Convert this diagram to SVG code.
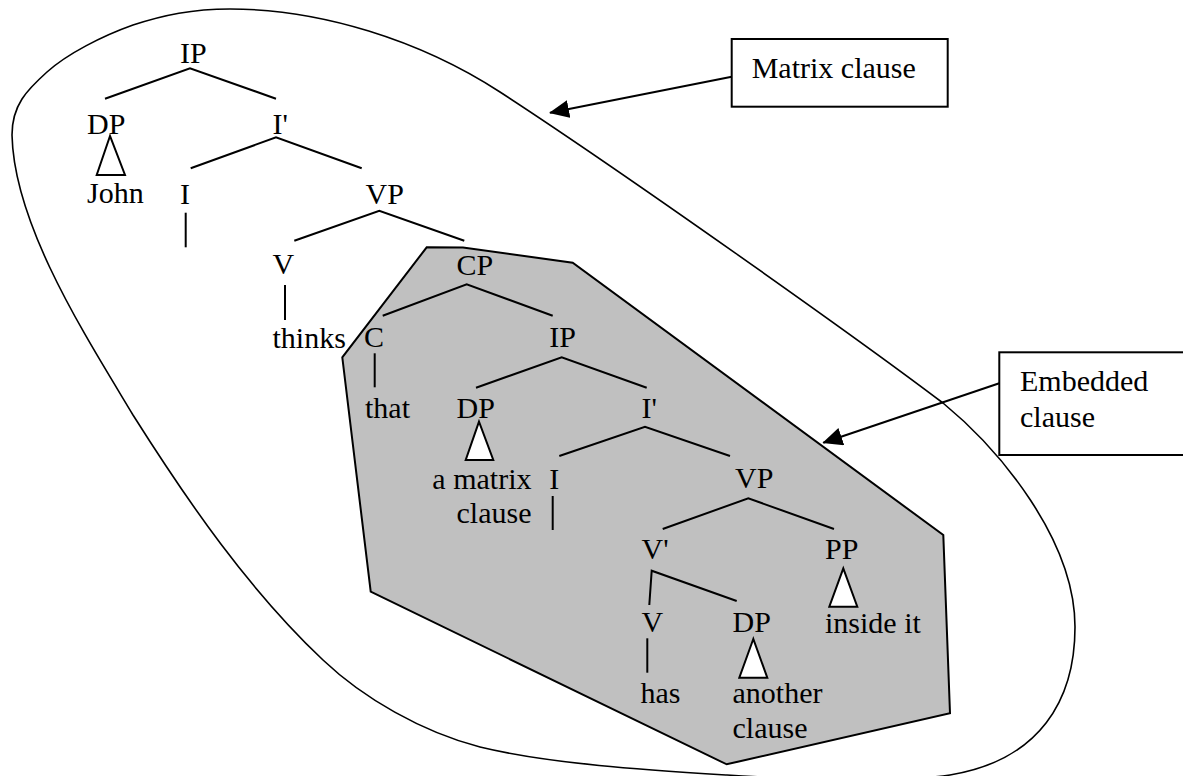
<svg xmlns="http://www.w3.org/2000/svg" width="1183" height="776" viewBox="0 0 1183 776">
  <style>
    .lbl { font-family: "Liberation Serif", "Times New Roman", serif; font-size: 30px; fill: #000; }
    .edge { stroke: #000; stroke-width: 2; fill: none; stroke-linecap: butt; }
    .tri { stroke: #000; stroke-width: 2; fill: #fff; stroke-linejoin: miter; }
    .box { stroke: #000; stroke-width: 2; fill: #fff; }
    .arrow { stroke: #000; stroke-width: 2; fill: none; }
  </style>
  <defs>
    <marker id="head" viewBox="0 0 20 18" refX="19" refY="9" markerWidth="20" markerHeight="18" markerUnits="userSpaceOnUse" orient="auto">
      <path d="M0,0 L20,9 L0,18 z" fill="#000"/>
    </marker>
  </defs>
  <rect width="1183" height="776" fill="#fff"/>

  <!-- outline of the matrix clause -->
  <path id="matrix-region" d="M230,9 C320,9 420,40 500,92 C620,170 860,340 943,403 C1000,450 1075,540 1075,627 C1075,700 1040,760 950,775 C896,783 805,780 727,775 C647,770 550,764 480,747 C422,732 363,698 323,660 C248,589 188,502 133,415 C85,335 14,225 12,135 C12,105 27,90 47,72 C67,54 102,36 133,25 C164,15 192,9 230,9 Z" fill="none" stroke="#000" stroke-width="1.6"/>

  <!-- shaded embedded clause -->
  <polygon id="embedded-region" points="426.7,247.3 463,247.5 572.7,262.7 943.3,535 950,713.3 726.7,764.3 370.7,591.7 342.3,357.3" fill="#c0c0c0" stroke="#000" stroke-width="2"/>

  <!-- tree branches and callout arrows -->
  <g id="connectors">
    <polyline class="edge" points="105,98.7 190,68.3 276,98.7"/>
    <polyline class="edge" points="190.7,168.3 276,137.3 361.7,168.3"/>
    <line class="edge" x1="185.7" y1="212.7" x2="185.7" y2="247.3"/>
    <polyline class="edge" points="294.3,240.7 379.3,210.7 464.3,240.7"/>
    <line class="edge" x1="285" y1="285" x2="285" y2="320"/>
    <polyline class="edge" points="382.7,315.7 466.7,284.3 552.7,315.7"/>
    <line class="edge" x1="374.7" y1="353.3" x2="374.7" y2="387.3"/>
    <polyline class="edge" points="476,387.7 561.7,357.3 646.7,387.7"/>
    <polyline class="edge" points="559.3,456 645,426.7 730,456"/>
    <line class="edge" x1="552.7" y1="496" x2="552.7" y2="530"/>
    <polyline class="edge" points="662.7,529 748.3,498.3 834,529"/>
    <polyline class="edge" points="649.3,605 651.7,570.7 736.7,601"/>
    <line class="edge" x1="647.3" y1="638.3" x2="647.3" y2="672.7"/>
    <polygon class="tri" points="110,136 96.7,175 125,175"/>
    <polygon class="tri" points="479,421.7 465.7,460 493.3,460"/>
    <polygon class="tri" points="843.3,568.3 829.3,606.7 857.3,606.7"/>
    <polygon class="tri" points="753.3,639 739.3,677.7 767.3,677.7"/>
    <line class="arrow" x1="731.7" y1="76.7" x2="550" y2="112.7" marker-end="url(#head)"/>
    <line class="arrow" x1="999.3" y1="383.3" x2="823.3" y2="442.7" marker-end="url(#head)"/>
  </g>

  <!-- matrix clause nodes -->
  <g id="n-ip"><text class="lbl" x="180" y="63">IP</text></g>
  <g id="n-dp"><text class="lbl" x="87" y="134">DP</text></g>
  <g id="n-john"><text class="lbl" x="87" y="203">John</text></g>
  <g id="n-ibar"><text class="lbl" x="272.5" y="134">I'</text></g>
  <g id="n-i"><text class="lbl" x="180" y="204">I</text></g>
  <g id="n-vp"><text class="lbl" x="365.5" y="204">VP</text></g>
  <g id="n-v"><text class="lbl" x="272.5" y="274">V</text></g>
  <g id="n-thinks"><text class="lbl" x="272.5" y="347.5">thinks</text></g>

  <!-- embedded clause nodes -->
  <g id="n-cp"><text class="lbl" x="456.5" y="275">CP</text></g>
  <g id="n-c"><text class="lbl" x="364" y="347.3">C</text></g>
  <g id="n-that"><text class="lbl" x="365" y="418.3">that</text></g>
  <g id="n-ip2"><text class="lbl" x="549.3" y="347.3">IP</text></g>
  <g id="n-dp2"><text class="lbl" x="456.5" y="418.3">DP</text></g>
  <g id="n-amatrix"><text class="lbl" text-anchor="end" x="531.5" y="489">a matrix</text><text class="lbl" text-anchor="end" x="531.5" y="523.3">clause</text></g>
  <g id="n-ibar2"><text class="lbl" x="641.5" y="418.3">I'</text></g>
  <g id="n-i2"><text class="lbl" x="549.3" y="489">I</text></g>
  <g id="n-vp2"><text class="lbl" x="735" y="488.3">VP</text></g>
  <g id="n-vbar"><text class="lbl" x="641.5" y="559.3">V'</text></g>
  <g id="n-pp"><text class="lbl" x="825" y="559.3">PP</text></g>
  <g id="n-v2"><text class="lbl" x="641.5" y="631.7">V</text></g>
  <g id="n-dp3"><text class="lbl" x="732.5" y="631.7">DP</text></g>
  <g id="n-inside"><text class="lbl" x="825" y="632.5">inside it</text></g>
  <g id="n-has"><text class="lbl" x="640.5" y="703.3">has</text></g>
  <g id="n-another"><text class="lbl" x="732.5" y="703.3">another</text><text class="lbl" x="732.5" y="738.3">clause</text></g>

  <!-- callout boxes -->
  <g id="box-matrix">
    <rect class="box" x="731.7" y="39" width="216" height="67.7"/>
    <text class="lbl" x="751.7" y="77.7">Matrix clause</text>
  </g>
  <g id="box-embedded">
    <rect class="box" x="999.3" y="352.3" width="190" height="102.7"/>
    <text class="lbl" x="1020" y="391">Embedded</text>
    <text class="lbl" x="1020" y="426.7">clause</text>
  </g>
</svg>
